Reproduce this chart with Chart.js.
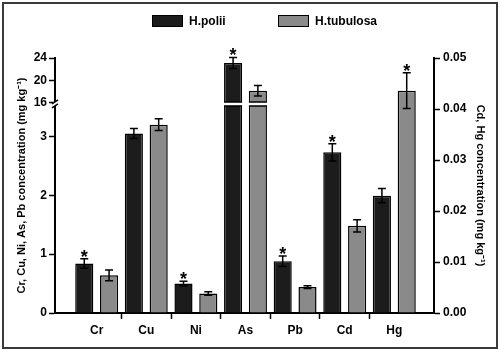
<!DOCTYPE html>
<html>
<head>
<meta charset="utf-8">
<script src="https://cdn.jsdelivr.net/npm/chart.js@4.4.0/dist/chart.umd.min.js"></script>
<style>
  html, body { margin: 0; padding: 0; background: #fff; }
</style>
</head>
<body>
<canvas id="barChart" width="500" height="354"></canvas>
<script>
// data
const categories = ["Cr", "Cu", "Ni", "As", "Pb", "Cd", "Hg"];
const rightAxisCats = ["Cd", "Hg"];
const poliiValues = [0.84, 3.05, 0.50, 23.1, 0.88, 0.0315, 0.0230];
const poliiErrors = [0.08, 0.085, 0.04, 1.0, 0.09, 0.0017, 0.0014];
const poliiStars = [true, false, true, true, true, true, false];
const tubulosaValues = [0.64, 3.20, 0.33, 18.1, 0.44, 0.0171, 0.0436];
const tubulosaErrors = [0.09, 0.10, 0.03, 0.95, 0.025, 0.0012, 0.0035];
const tubulosaStars = [false, false, false, false, false, false, true];
const leftTicks = [0, 1, 2, 3, 16, 20, 24];
const rightTicks = [0, 0.01, 0.02, 0.03, 0.04, 0.05];

// broken left axis: 0..3.5 linear, then 16..24 squeezed on top
const BREAK_LOW = 3.52;
const BREAK_AT = 3.578;
const BREAK_FROM = 16;
const UPPER_K = 0.0945;
const toAxis = v => v < 10 ? v : BREAK_AT + (v - BREAK_FROM) * UPPER_K;
const fromAxis = t => t <= BREAK_LOW ? t : BREAK_FROM + (t - BREAK_AT) / UPPER_K;

const FONT = "'Liberation Sans', Arial, sans-serif";
Chart.defaults.font.family = FONT;
Chart.defaults.font.weight = "bold";
Chart.defaults.color = "#000";

const darkFill = "#1c1c1c";
const grayFill = "#8a8a8a";

function makeSet(label, values, errors, stars, color, right) {
    return {
        label: label,
        data: values.map((v, i) => {
            const onRight = rightAxisCats.includes(categories[i]);
            return { x: i, y: onRight === right ? (right ? v : toAxis(v)) : null };
        }),
        yAxisID: right ? "y2" : "y",
        backgroundColor: color,
        borderColor: "#000",
        borderWidth: 1.5,
        realValues: values,
        errors: errors,
        stars: stars
    };
}

const errorBars = {
    id: "errorBars",
    afterDatasetsDraw(chart) {
        const ctx = chart.ctx;
        const yl = chart.scales.y;
        // white gap through bars crossing the break
        const yA = yl.getPixelForValue(BREAK_AT);
        const yB = yl.getPixelForValue(BREAK_LOW);
        chart.data.datasets.forEach((ds, di) => {
            if (ds.yAxisID !== "y") return;
            chart.getDatasetMeta(di).data.forEach((bar, i) => {
                if (ds.data[i].y === null || ds.realValues[i] < BREAK_FROM) return;
                const p = bar.getProps(["x", "width"], true);
                const x0 = p.x - p.width / 2, x1 = p.x + p.width / 2;
                ctx.save();
                ctx.fillStyle = "#fff";
                ctx.fillRect(x0 - 1, yA - 0.5, p.width + 2, yB - yA + 0.5);
                ctx.strokeStyle = "#000";
                ctx.lineWidth = 1.5;
                ctx.beginPath();
                ctx.moveTo(x0, yA - 0.5); ctx.lineTo(x1, yA - 0.5);
                ctx.moveTo(x0, yB); ctx.lineTo(x1, yB);
                ctx.stroke();
                ctx.restore();
            });
        });
        // break marks on the left axis
        const ax = chart.chartArea.left;
        ctx.save();
        ctx.fillStyle = "#fff";
        ctx.fillRect(ax - 2, yA - 0.5, 4, yB - yA + 0.5);
        ctx.strokeStyle = "#000";
        ctx.lineWidth = 1.5;
        ctx.beginPath();
        ctx.moveTo(ax - 3, yA + 1.5); ctx.lineTo(ax + 3, yA - 2.5);
        ctx.moveTo(ax - 3, yB + 2); ctx.lineTo(ax + 3, yB - 2);
        ctx.stroke();
        ctx.restore();

        // error bars and significance stars
        chart.data.datasets.forEach((ds, di) => {
            const ys = chart.scales[ds.yAxisID];
            const conv = ds.yAxisID === "y" ? toAxis : v => v;
            chart.getDatasetMeta(di).data.forEach((bar, i) => {
                if (ds.data[i].y === null) return;
                const v = ds.realValues[i], e = ds.errors[i];
                const x = bar.getProps(["x"], true).x;
                const yTop = ys.getPixelForValue(conv(v + e));
                const yBot = ys.getPixelForValue(conv(v - e));
                ctx.save();
                ctx.strokeStyle = "#000";
                ctx.lineWidth = 1.5;
                ctx.beginPath();
                ctx.moveTo(x, yTop); ctx.lineTo(x, yBot);
                ctx.moveTo(x - 4, yTop); ctx.lineTo(x + 4, yTop);
                ctx.moveTo(x - 4, yBot); ctx.lineTo(x + 4, yBot);
                ctx.stroke();
                if (ds.stars[i]) {
                    ctx.font = "bold 18px " + FONT;
                    ctx.fillStyle = "#000";
                    ctx.textAlign = "center";
                    ctx.textBaseline = "alphabetic";
                    const m = ctx.measureText("*");
                    ctx.fillText("*", x, yTop - 2 - m.actualBoundingBoxDescent);
                }
                ctx.restore();
            });
        });
    }
};

const legendAndFrame = {
    id: "legendAndFrame",
    afterDraw(chart) {
        const ctx = chart.ctx;
        const items = [{ ds: 0, x: 152 }, { ds: 1, x: 278 }];
        ctx.save();
        items.forEach(it => {
            const ds = chart.data.datasets[it.ds];
            ctx.fillStyle = ds.backgroundColor;
            ctx.fillRect(it.x, 15, 31, 12);
            ctx.strokeStyle = "#000";
            ctx.lineWidth = 1;
            ctx.strokeRect(it.x + 0.5, 15.5, 30, 11);
            ctx.fillStyle = "#000";
            ctx.font = "bold 12px " + FONT;
            ctx.textBaseline = "middle";
            ctx.textAlign = "left";
            ctx.fillText(ds.label, it.x + 37, 21.5);
        });
        ctx.strokeStyle = "#3a3a3a";
        ctx.lineWidth = 2;
        ctx.strokeRect(3, 3, 494, 345);
        ctx.restore();
    }
};

const datasets = [
    makeSet("H.polii", poliiValues, poliiErrors, poliiStars, darkFill, false),
    makeSet("H.tubulosa", tubulosaValues, tubulosaErrors, tubulosaStars, grayFill, false),
    makeSet("H.polii", poliiValues, poliiErrors, poliiStars, darkFill, true),
    makeSet("H.tubulosa", tubulosaValues, tubulosaErrors, tubulosaStars, grayFill, true)
];

new Chart(document.getElementById("barChart").getContext("2d"), {
    type: "bar",
    data: { datasets: datasets },
    plugins: [errorBars, legendAndFrame],
    options: {
        responsive: false,
        animation: false,
        devicePixelRatio: 1,
        layout: { padding: { left: 0, right: 0, top: 58, bottom: 11 } },
        datasets: {
            bar: { skipNull: true, categoryPercentage: 1.0, barPercentage: 0.73 }
        },
        plugins: {
            legend: { display: false },
            tooltip: { enabled: false }
        },
        scales: {
            x: {
                type: "linear",
                offset: false,
                min: -0.84,
                max: 6.8,
                afterBuildTicks: s => { s.ticks = categories.map((c, i) => ({ value: i })); },
                afterFit: s => { s.height = 30; },
                ticks: {
                    autoSkip: false,
                    maxRotation: 0,
                    padding: 4,
                    font: { size: 12, weight: "bold" },
                    callback: v => categories[v]
                },
                grid: {
                    offset: true,
                    drawOnChartArea: false,
                    tickLength: 6,
                    tickWidth: 1.5,
                    tickColor: c => (c.index >= 1 && c.index <= 6) ? "#000" : "rgba(0,0,0,0)"
                },
                border: { color: "#000", width: 2 }
            },
            y: {
                type: "linear",
                position: "left",
                min: 0,
                max: toAxis(24),
                afterBuildTicks: s => { s.ticks = leftTicks.map(v => ({ value: toAxis(v) })); },
                afterFit: s => { s.width = 55; },
                ticks: {
                    padding: 2,
                    font: { size: 12, weight: "bold" },
                    callback: v => String(Math.round(fromAxis(v)))
                },
                grid: { drawOnChartArea: false, tickLength: 6, tickWidth: 1.5, tickColor: "#000" },
                border: { color: "#000", width: 2 },
                title: {
                    display: true,
                    text: "Cr, Cu, Ni, As, Pb concentration (mg kg\u207B\u00B9)",
                    font: { size: 11, weight: "bold" },
                    padding: { top: 15, bottom: 0 }
                }
            },
            y2: {
                type: "linear",
                position: "right",
                min: 0,
                max: 0.05,
                afterBuildTicks: s => { s.ticks = rightTicks.map(v => ({ value: v })); },
                afterFit: s => { s.width = 66; },
                ticks: {
                    padding: 3,
                    font: { size: 12, weight: "bold" },
                    callback: v => v.toFixed(2)
                },
                grid: { drawOnChartArea: false, tickLength: 6, tickWidth: 1.5, tickColor: "#000" },
                border: { color: "#000", width: 2 },
                title: {
                    display: true,
                    text: "Cd, Hg concentration (mg kg\u207B\u00B9)",
                    font: { size: 11, weight: "bold" },
                    padding: { top: 13, bottom: 0 }
                }
            }
        }
    }
});
</script>
</body>
</html>
